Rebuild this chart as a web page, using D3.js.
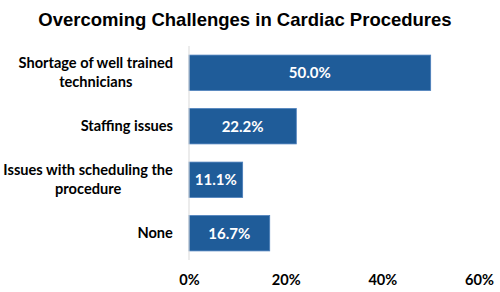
<!DOCTYPE html>
<html>
<head>
<meta charset="utf-8">
<script src="https://cdn.jsdelivr.net/npm/d3@7"></script>
<style>
  body { margin: 0; background: #fff; }
  .title { font-family: "Liberation Sans", Arial, sans-serif; font-weight: bold; font-size: 18.5px; }
  .cat, .tick text { font-family: Lato, "Open Sans", sans-serif; font-weight: bold; font-size: 14.6px; fill: #000; }
  .val { font-family: Lato, "Open Sans", sans-serif; font-weight: bold; font-size: 15px; fill: #fff; }
</style>
</head>
<body>
<div id="chart"></div>
<script>
    'use strict';

    var categories = [
        ['Shortage of well trained', 'technicians'],
        ['Staffing issues'],
        ['Issues with scheduling the', 'procedure'],
        ['None']
    ];
    var values = [50.0, 22.2, 11.1, 16.7];
    var tickValues = [0, 20, 40, 60];

    var stage = { width: 500, height: 292 };
    var plot = { left: 189, right: 479, top: 46, bottom: 260 };

    var svg = d3.select('#chart')
        .append('svg')
        .attr('width', stage.width)
        .attr('height', stage.height)
        .attr('xmlns', 'http://www.w3.org/2000/svg');

    svg.append('text')
        .attr('class', 'title')
        .attr('x', 245)
        .attr('y', 26)
        .attr('text-anchor', 'middle')
        .text('Overcoming Challenges in Cardiac Procedures');

    var x = d3.scaleLinear().domain([0, 60]).range([plot.left, plot.right]);
    var y = d3.scaleBand()
        .domain(d3.range(categories.length))
        .range([plot.top, plot.bottom])
        .paddingInner(0.34)
        .paddingOuter(0.17);

    // bars
    svg.append('g').selectAll('rect')
        .data(values).enter()
        .append('rect')
        .attr('x', x(0))
        .attr('y', function(d, i) { return y(i); })
        .attr('width', function(d) { return x(d) - x(0); })
        .attr('height', y.bandwidth())
        .attr('fill', '#1f5c99')
        .attr('stroke', '#4a7ebb')
        .attr('stroke-width', 0.8);

    // value labels
    svg.append('g').selectAll('text')
        .data(values).enter()
        .append('text')
        .attr('class', 'val')
        .attr('x', function(d) { return (x(0) + x(d)) / 2; })
        .attr('y', function(d, i) { return y(i) + y.bandwidth() / 2; })
        .attr('dy', '0.35em')
        .attr('text-anchor', 'middle')
        .text(function(d) { return d.toFixed(1) + '%'; });

    // axis line
    svg.append('line')
        .attr('x1', x(0)).attr('x2', x(0))
        .attr('y1', plot.top).attr('y2', plot.bottom)
        .attr('stroke', '#d9d9d9')
        .attr('stroke-width', 1);

    // category labels
    var lineH = 19;
    svg.append('g').selectAll('text')
        .data(categories).enter()
        .append('text')
        .attr('class', 'cat')
        .attr('text-anchor', 'middle')
        .each(function(lines, i) {
            var cy = y(i) + y.bandwidth() / 2;
            var start = cy - (lines.length - 1) * lineH / 2;
            var t = d3.select(this);
            lines.forEach(function(l, j) {
                t.append('tspan')
                    .attr('x', 0)
                    .attr('y', start + j * lineH)
                    .attr('dy', '0.35em')
                    .text(l);
            });
        })
        .each(function() {
            // right align the block, lines centred inside it
            var bb = this.getBBox();
            d3.select(this).attr('transform', 'translate(' + (173 - bb.width / 2) + ',0)');
        });

    // x axis
    var xAxis = d3.axisBottom(x)
        .tickValues(tickValues)
        .tickSize(0)
        .tickPadding(0)
        .tickFormat(function(d) { return d + '%'; });

    var gx = svg.append('g')
        .attr('transform', 'translate(0,' + 275 + ')')
        .call(xAxis);
    gx.select('.domain').remove();
    gx.selectAll('text').attr('dy', '0.71em').attr('font-family', null).attr('font-size', null);
</script>
</body>
</html>
